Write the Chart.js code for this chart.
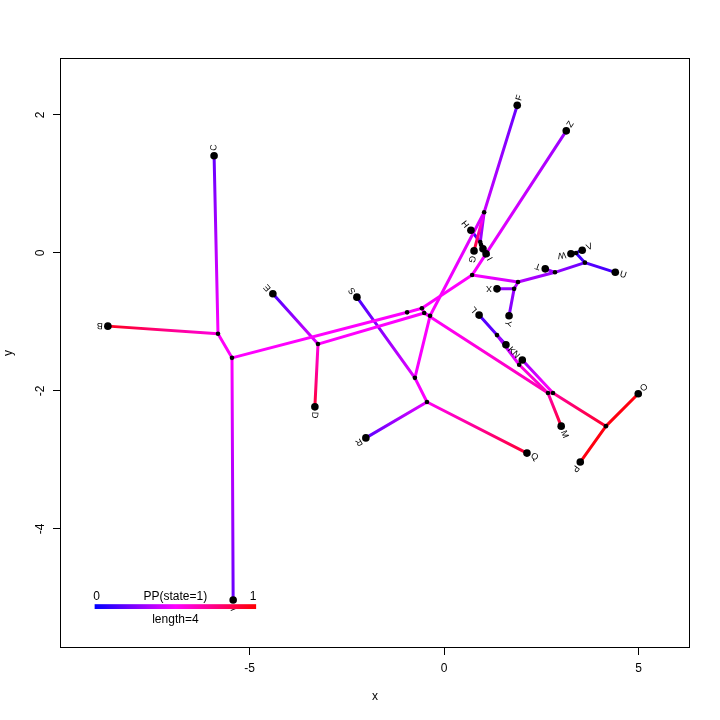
<!DOCTYPE html>
<html>
<head>
<meta charset="utf-8">
<script src="https://cdn.jsdelivr.net/npm/chart.js@4.4.1/dist/chart.umd.min.js"></script>
<style>
  html, body { margin: 0; padding: 0; background: #fff; }
  #wrap { width: 720px; height: 720px; }
</style>
</head>
<body>
<div id="wrap"><canvas id="graph"></canvas></div>
<script>
// tips of the tree
const tipNames = ['A','B','C','D','E','F','G','H','I','J','K','L','M','N','O','P','Q','R','S','T','U','V','W','X','Y','Z'];
const tipX = [-5.42,-8.64,-5.91,-3.32,-4.40,1.88,0.77,0.69,1.08,1.00,1.59,0.90,3.01,2.01,4.99,3.50,2.13,-2.01,-2.24,2.60,4.40,3.55,3.26,1.36,1.67,3.14];
const tipY = [-5.03,-1.06,1.41,-2.23,-0.59,2.14,0.03,0.33,-0.01,0.06,-1.33,-0.90,-2.51,-1.55,-2.04,-3.03,-2.90,-2.68,-0.64,-0.23,-0.28,0.04,-0.01,-0.52,-0.91,1.77];

// internal nodes
const nodeNames = ['n1','n2','n3','n4','n5b','n5','n6','n7','n9','n8a','n8b','n10','nL2','nL1','n11','n12','nXY','nT','nU','nW','n13','nA','nB'];
const nodeX = [-5.81,-5.45,-0.95,-0.57,-0.51,-0.36,-3.24,-0.75,-0.44,2.67,2.80,4.16,1.93,1.36,0.72,1.90,1.80,2.85,3.62,3.39,1.03,0.93,0.95];
const nodeY = [-1.17,-1.52,-0.86,-0.80,-0.87,-0.91,-1.32,-1.81,-2.16,-2.03,-2.03,-2.51,-1.62,-1.19,-0.32,-0.42,-0.52,-0.28,-0.14,0.00,0.59,0.16,0.12];

// branches: from -> to, posterior probability of state 1 at each end
const edgeFrom = ['n2','n1','n1','n2','n3','n4','n4','n4','n5b','n6','n6','n5b','n5','n5','n5b','n7','n7','n9','n9','n8a','n8a','n8b','n10','n10','n8a','nL2','nL1','nL1','n8b',
                  'n11','n11','n12','nXY','nXY','n12','nT','nT','nU','nU','nW','nW','n13','n13','n13','nA','nA','nB','nB'];
const edgeTo   = ['n1','B','C','A','n2','n3','n11','n5b','n6','E','D','n5','n13','n7','n8a','S','n9','R','Q','M','n8b','n10','O','P','nL2','nL1','L','K','N',
                  'Z','n12','nXY','X','Y','nT','T','nU','U','nW','W','V','F','G','nA','H','nB','I','J'];
const edgePP0  = [0.50,0.55,0.50,0.50,0.50,0.50,0.50,0.50,0.50,0.45,0.55,0.50,0.50,0.50,0.50,0.45,0.48,0.45,0.52,0.65,0.65,0.70,0.97,0.97,0.62,0.50,0.20,0.25,0.55,
                  0.50,0.50,0.38,0.30,0.30,0.35,0.30,0.30,0.18,0.15,0.10,0.10,0.40,0.40,0.35,0.20,0.30,0.30,0.30];
const edgePP1  = [0.52,0.95,0.20,0.20,0.50,0.50,0.50,0.50,0.50,0.15,0.90,0.50,0.42,0.48,0.65,0.15,0.50,0.18,0.90,0.90,0.65,0.92,0.97,0.97,0.55,0.30,0.15,0.20,0.30,
                  0.30,0.40,0.32,0.30,0.25,0.30,0.30,0.20,0.12,0.10,0.10,0.10,0.20,0.95,0.30,0.05,0.30,0.30,0.30];

const xTicks = [-5, 0, 5];
const yTicks = [-4, -2, 0, 2];

// colour bar legend
const legendX = [-8.98, -4.83];
const legendY = [-5.09, -5.16];
const legendTitle = 'PP(state=1)';
const legendNote = 'length=4';

function ppColor(p) {
  const r = Math.round(255 * Math.min(1, 2 * p));
  const b = Math.round(255 * Math.min(1, 2 * (1 - p)));
  return 'rgb(' + r + ',0,' + b + ')';
}

function where(name) {
  let i = tipNames.indexOf(name);
  if (i >= 0) return {x: tipX[i], y: tipY[i]};
  i = nodeNames.indexOf(name);
  return {x: nodeX[i], y: nodeY[i]};
}

function gradientFor(chart, x0, y0, x1, y1, v0, v1) {
  const g = chart.ctx.createLinearGradient(x0, y0, x1, y1);
  for (let k = 0; k <= 4; k++) {
    const t = k / 4;
    g.addColorStop(t, ppColor(v0 + (v1 - v0) * t));
  }
  return g;
}

const FONT = '"Liberation Sans", Arial, sans-serif';
Chart.defaults.font.family = FONT;
Chart.defaults.color = '#000';

let datasets = [];
datasets.push({
  label: 'tips',
  data: tipNames.map((n, i) => ({x: tipX[i], y: tipY[i]})),
  pointRadius: 3.8, pointBackgroundColor: '#000', pointBorderWidth: 0,
  showLine: false, order: 0
});
datasets.push({
  label: 'nodes',
  data: nodeNames.map((n, i) => ({x: nodeX[i], y: nodeY[i]})),
  pointRadius: 2.3, pointBackgroundColor: '#000', pointBorderWidth: 0,
  showLine: false, order: 0
});
edgeFrom.forEach((f, i) => {
  const a = where(f), b = where(edgeTo[i]);
  datasets.push({
    label: f + '-' + edgeTo[i],
    data: [a, b],
    showLine: true, pointRadius: 0, borderWidth: 3, borderCapStyle: 'round',
    order: 1,
    borderColor: ctx => {
      const chart = ctx.chart;
      if (!chart.chartArea) return ppColor(edgePP0[i]);
      const sx = chart.scales.x, sy = chart.scales.y;
      return gradientFor(chart, sx.getPixelForValue(a.x), sy.getPixelForValue(a.y),
        sx.getPixelForValue(b.x), sy.getPixelForValue(b.y), edgePP0[i], edgePP1[i]);
    }
  });
});

const treeExtras = {
  id: 'treeExtras',
  afterDatasetsDraw(chart) {
    const ctx = chart.ctx, sx = chart.scales.x, sy = chart.scales.y;
    // tip labels, rotated along the incoming branch
    ctx.save();
    ctx.fillStyle = '#000';
    ctx.font = '9px ' + FONT;
    ctx.textAlign = 'left';
    ctx.textBaseline = 'middle';
    tipNames.forEach((n, i) => {
      const p = where(edgeFrom[edgeTo.indexOf(n)]);
      const tx = sx.getPixelForValue(tipX[i]), ty = sy.getPixelForValue(tipY[i]);
      const ang = Math.atan2(ty - sy.getPixelForValue(p.y), tx - sx.getPixelForValue(p.x));
      ctx.save();
      ctx.translate(tx, ty);
      ctx.rotate(ang);
      ctx.fillText(n, 5, 0);
      ctx.restore();
    });
    ctx.restore();

    // colour bar
    const lx0 = sx.getPixelForValue(legendX[0]), lx1 = sx.getPixelForValue(legendX[1]);
    const ly0 = sy.getPixelForValue(legendY[0]), ly1 = sy.getPixelForValue(legendY[1]);
    ctx.save();
    ctx.fillStyle = gradientFor(chart, lx0, 0, lx1, 0, 0, 1);
    ctx.fillRect(lx0, ly0, lx1 - lx0, ly1 - ly0);
    ctx.fillStyle = '#000';
    ctx.font = '12px ' + FONT;
    ctx.textBaseline = 'middle';
    ctx.textAlign = 'center';
    ctx.fillText('0', lx0 + 2, ly0 - 7);
    ctx.fillText('1', lx1 - 3, ly0 - 7);
    ctx.fillText(legendTitle, (lx0 + lx1) / 2, ly0 - 7);
    ctx.fillText(legendNote, (lx0 + lx1) / 2, ly1 + 11);
    ctx.restore();
  },
  afterDraw(chart) {
    const {left, top, right, bottom} = chart.chartArea;
    const ctx = chart.ctx;
    ctx.save();
    ctx.strokeStyle = '#000';
    ctx.lineWidth = 1;
    ctx.strokeRect(Math.round(left) + 0.5, Math.round(top) + 0.5, Math.round(right - left) - 1, Math.round(bottom - top) - 1);
    ctx.restore();
  }
};

new Chart(document.getElementById('graph'), {
  type: 'scatter',
  data: { datasets: datasets },
  plugins: [treeExtras],
  options: {
    responsive: true,
    maintainAspectRatio: false,
    animation: false,
    layout: { padding: { top: 58, right: 30, left: 0, bottom: 0 } },
    plugins: { legend: { display: false }, tooltip: { enabled: false } },
    elements: { line: { tension: 0, fill: false } },
    scales: {
      x: {
        type: 'linear', min: -9.87, max: 6.32,
        afterBuildTicks: s => { s.ticks = xTicks.map(v => ({value: v})); },
        afterFit: s => { s.height = 72; },
        ticks: { font: { size: 12 }, color: '#000', padding: 6, maxRotation: 0 },
        grid: { drawOnChartArea: false, drawTicks: true, tickLength: 7, color: '#000' },
        border: { display: false },
        title: { display: true, text: 'x', font: { size: 12 }, color: '#000', padding: { top: 0, bottom: 16 } }
      },
      y: {
        type: 'linear', min: -5.725, max: 2.826,
        afterBuildTicks: s => { s.ticks = yTicks.map(v => ({value: v})); },
        afterFit: s => { s.width = 60; },
        ticks: { font: { size: 12 }, color: '#000', padding: 7, minRotation: 90, maxRotation: 90, crossAlign: 'center' },
        grid: { drawOnChartArea: false, drawTicks: true, tickLength: 7, color: '#000' },
        border: { display: false },
        title: { display: true, text: 'y', font: { size: 12 }, color: '#000', padding: { top: 1, bottom: 0 } }
      }
    }
  }
});
</script>
</body>
</html>
